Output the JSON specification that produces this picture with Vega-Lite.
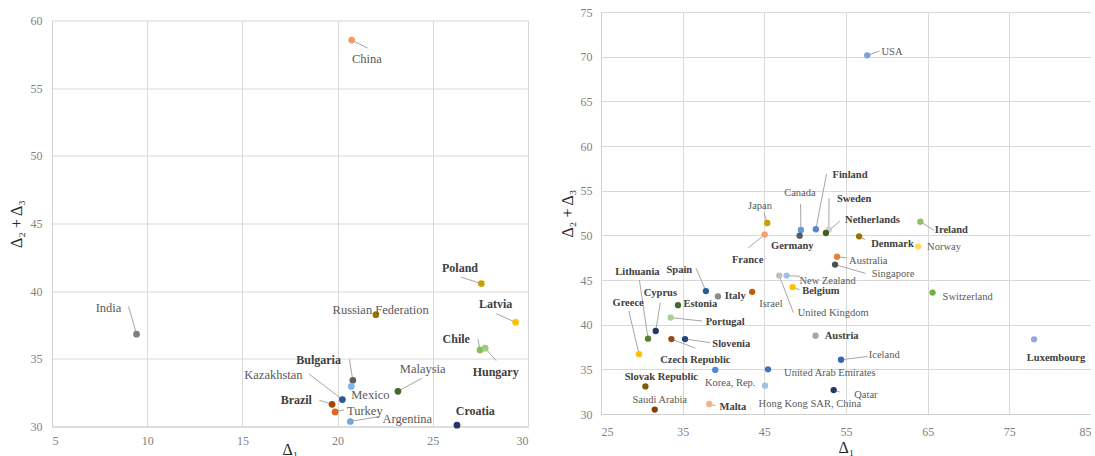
{
  "$schema": "https://vega.github.io/schema/vega-lite/v6.json",
  "padding": {"left": 8, "top": 6, "right": 0, "bottom": 0},
  "spacing": 31,
  "config": {
    "view": {"stroke": null},
    "axis": {"grid": true, "gridColor": "#d9d9d9", "domainColor": "#d0d0d0", "ticks": false, "labelFont": "Liberation Serif", "labelFontSize": 12, "labelColor": "#7f7f7f", "titleFont": "Liberation Serif", "titleFontSize": 16, "titleFontWeight": "normal", "titleColor": "#262626"},
    "text": {"font": "Liberation Serif"}
  },
  "resolve": {"scale": {"color": "independent", "x": "independent", "y": "independent"}},
  "hconcat": [
    {
      "spacing": 1.5,
      "vconcat": [
        {
          "width": 476, "height": 1,
          "data": {"values": []},
          "mark": "point"
        },
        {
          "width": 476, "height": 406,
          "data": {"values": [
            {"country": "China", "d1": 20.74, "d23": 58.55, "lx": 21.54, "ly": 57.18, "kx": 21.58, "ky": 57.96, "bold": false},
            {"country": "India", "d1": 9.44, "d23": 36.82, "lx": 7.97, "ly": 38.78, "kx": 9.02, "ky": 38.88, "bold": false},
            {"country": "Poland", "d1": 27.55, "d23": 40.56, "lx": 26.43, "ly": 41.73, "kx": 26.47, "ky": 41.04, "bold": true},
            {"country": "Russian Federation", "d1": 22.01, "d23": 38.26, "lx": 22.26, "ly": 38.64, "bold": false},
            {"country": "Latvia", "d1": 29.35, "d23": 37.7, "lx": 28.3, "ly": 39.08, "kx": 28.33, "ky": 38.34, "bold": true},
            {"country": "Chile", "d1": 27.48, "d23": 35.66, "lx": 26.23, "ly": 36.43, "kx": 27.37, "ky": 36.45, "bold": true},
            {"country": "Hungary", "d1": 27.75, "d23": 35.79, "lx": 28.3, "ly": 34.05, "kx": 28.33, "ky": 34.86, "bold": true},
            {"country": "Bulgaria", "d1": 20.8, "d23": 33.41, "lx": 19.0, "ly": 34.93, "kx": 20.62, "ky": 34.96, "bold": true},
            {"country": "Mexico", "d1": 20.72, "d23": 32.96, "lx": 21.72, "ly": 32.36, "bold": false},
            {"country": "Malaysia", "d1": 23.17, "d23": 32.6, "lx": 24.47, "ly": 34.27, "kx": 24.42, "ky": 33.56, "bold": false},
            {"country": "Kazakhstan", "d1": 20.25, "d23": 31.99, "lx": 16.63, "ly": 33.83, "kx": 18.5, "ky": 33.88, "bold": false},
            {"country": "Brazil", "d1": 19.71, "d23": 31.64, "lx": 17.83, "ly": 31.94, "kx": 19.04, "ky": 31.94, "bold": true},
            {"country": "Turkey", "d1": 19.87, "d23": 31.08, "lx": 21.43, "ly": 31.18, "kx": 20.34, "ky": 31.23, "bold": false},
            {"country": "Argentina", "d1": 20.67, "d23": 30.37, "lx": 23.66, "ly": 30.59, "kx": 22.21, "ky": 30.74, "bold": false},
            {"country": "Croatia", "d1": 26.27, "d23": 30.1, "lx": 27.23, "ly": 31.18, "bold": true}
          ]},
          "layer": [
            {
              "transform": [{"filter": "isValid(datum.kx)"}],
              "mark": {"type": "rule", "color": "#a6a6a6", "strokeWidth": 1},
              "encoding": {
                "x": {"field": "kx", "type": "quantitative", "title": "Δ₁"},
                "y": {"field": "ky", "type": "quantitative", "title": "Δ₂ + Δ₃"},
                "x2": {"field": "d1"},
                "y2": {"field": "d23"}
              }
            },
            {
              "mark": {"type": "point", "filled": true, "opacity": 1, "size": 45},
              "encoding": {
                "x": {"field": "d1", "type": "quantitative", "title": "Δ₁", "scale": {"domain": [5, 30], "nice": false, "zero": false}, "axis": {"values": [5, 10, 15, 20, 25, 30], "labelPadding": 9, "titlePadding": -5}},
                "y": {"field": "d23", "type": "quantitative", "title": "Δ₂ + Δ₃", "scale": {"domain": [30, 60], "nice": false, "zero": false}, "axis": {"values": [30, 35, 40, 45, 50, 55, 60], "labelPadding": 10, "titlePadding": 6}},
                "color": {"field": "country", "type": "nominal", "legend": null, "scale": {
                  "domain": ["China", "India", "Poland", "Russian Federation", "Latvia", "Chile", "Hungary", "Bulgaria", "Mexico", "Malaysia", "Kazakhstan", "Brazil", "Turkey", "Argentina", "Croatia"],
                  "range": ["#f29b62", "#7f7f7f", "#c9a000", "#997300", "#ffc000", "#86bf5e", "#9acd7a", "#5f5f5f", "#7eb6ea", "#43682b", "#2f5597", "#9e480e", "#e0661d", "#6fa8dc", "#1f3864"]
                }}
              }
            },
            {
              "transform": [{"filter": "!datum.bold"}],
              "mark": {"type": "text", "fontSize": 12.5, "color": "#595959"},
              "encoding": {
                "x": {"field": "lx", "type": "quantitative", "title": "Δ₁"},
                "y": {"field": "ly", "type": "quantitative", "title": "Δ₂ + Δ₃"},
                "text": {"field": "country"}
              }
            },
            {
              "transform": [{"filter": "datum.bold"}],
              "mark": {"type": "text", "fontSize": 12, "fontWeight": "bold", "color": "#404040"},
              "encoding": {
                "x": {"field": "lx", "type": "quantitative", "title": "Δ₁"},
                "y": {"field": "ly", "type": "quantitative", "title": "Δ₂ + Δ₃"},
                "text": {"field": "country"}
              }
            }
          ]
        }
      ]
    },
    {
      "width": 490, "height": 402,
      "data": {"values": [
        {"country": "USA", "d1": 57.6, "d23": 70.15, "lx": 60.63, "ly": 70.56, "kx": 59.11, "ky": 70.63, "bold": false},
        {"country": "Ireland", "d1": 64.1, "d23": 51.53, "lx": 67.9, "ly": 50.56, "kx": 65.78, "ky": 50.56, "bold": true},
        {"country": "Japan", "d1": 45.36, "d23": 51.38, "lx": 44.47, "ly": 53.31, "kx": 44.96, "ky": 52.52, "bold": false},
        {"country": "Canada", "d1": 49.48, "d23": 50.6, "lx": 49.36, "ly": 54.7, "kx": 49.44, "ky": 53.5, "bold": false},
        {"country": "Finland", "d1": 51.31, "d23": 50.68, "lx": 55.49, "ly": 56.8, "kx": 52.62, "ky": 56.88, "bold": true},
        {"country": "Sweden", "d1": 52.9, "d23": 50.64, "lx": 56.0, "ly": 54.1, "kx": 52.92, "ky": 54.17, "bold": true},
        {"country": "Netherlands", "d1": 52.54, "d23": 50.26, "lx": 58.25, "ly": 51.75, "kx": 54.26, "ky": 51.6, "bold": true},
        {"country": "France", "d1": 45.04, "d23": 50.08, "lx": 42.96, "ly": 47.26, "kx": 43.04, "ky": 48.6, "bold": true},
        {"country": "Germany", "d1": 49.32, "d23": 49.96, "lx": 48.42, "ly": 48.76, "bold": true},
        {"country": "Denmark", "d1": 56.6, "d23": 49.89, "lx": 60.7, "ly": 49.07, "kx": 57.32, "ky": 49.5, "bold": true},
        {"country": "Norway", "d1": 63.83, "d23": 48.77, "lx": 67.0, "ly": 48.7, "bold": false},
        {"country": "Australia", "d1": 53.9, "d23": 47.6, "lx": 57.73, "ly": 47.18, "kx": 55.08, "ky": 47.48, "bold": false},
        {"country": "Singapore", "d1": 53.66, "d23": 46.73, "lx": 60.76, "ly": 45.63, "kx": 57.38, "ky": 45.74, "bold": false},
        {"country": "United Kingdom", "d1": 46.83, "d23": 45.49, "lx": 53.43, "ly": 41.28, "kx": 48.56, "ky": 41.35, "bold": false},
        {"country": "New Zealand", "d1": 47.73, "d23": 45.49, "lx": 52.74, "ly": 44.9, "kx": 49.36, "ky": 45.41, "bold": false},
        {"country": "Belgium", "d1": 48.46, "d23": 44.21, "lx": 51.92, "ly": 43.72, "kx": 49.3, "ky": 43.9, "bold": true},
        {"country": "Israel", "d1": 43.51, "d23": 43.68, "lx": 45.81, "ly": 42.29, "bold": false},
        {"country": "Italy", "d1": 39.32, "d23": 43.16, "lx": 41.44, "ly": 43.16, "bold": true},
        {"country": "Spain", "d1": 37.85, "d23": 43.76, "lx": 34.59, "ly": 46.17, "kx": 36.63, "ky": 46.32, "bold": true},
        {"country": "Estonia", "d1": 34.43, "d23": 42.18, "lx": 37.16, "ly": 42.29, "bold": true},
        {"country": "Portugal", "d1": 33.53, "d23": 40.79, "lx": 40.21, "ly": 40.3, "kx": 37.36, "ky": 40.41, "bold": true},
        {"country": "Cyprus", "d1": 31.7, "d23": 39.29, "lx": 32.27, "ly": 43.5, "kx": 32.27, "ky": 42.48, "bold": true},
        {"country": "Lithuania", "d1": 30.76, "d23": 38.43, "lx": 29.46, "ly": 45.86, "kx": 29.7, "ky": 45.0, "bold": true},
        {"country": "Greece", "d1": 29.66, "d23": 36.7, "lx": 28.32, "ly": 42.44, "kx": 28.4, "ky": 41.54, "bold": true},
        {"country": "Czech Republic", "d1": 33.62, "d23": 38.39, "lx": 36.55, "ly": 35.99, "kx": 36.55, "ky": 37.38, "bold": true},
        {"country": "Slovenia", "d1": 35.29, "d23": 38.39, "lx": 40.95, "ly": 37.87, "kx": 38.38, "ky": 37.98, "bold": true},
        {"country": "Austria", "d1": 51.27, "d23": 38.76, "lx": 54.47, "ly": 38.7, "bold": true},
        {"country": "Iceland", "d1": 54.39, "d23": 36.07, "lx": 59.68, "ly": 36.55, "kx": 57.65, "ky": 36.44, "bold": false},
        {"country": "Korea, Rep.", "d1": 38.99, "d23": 34.93, "lx": 40.82, "ly": 33.5, "bold": false},
        {"country": "United Arab Emirates", "d1": 45.45, "d23": 35.0, "lx": 53.02, "ly": 34.59, "bold": false},
        {"country": "Hong Kong SAR, China", "d1": 45.08, "d23": 33.17, "lx": 50.58, "ly": 31.14, "bold": false},
        {"country": "Qatar", "d1": 53.49, "d23": 32.68, "lx": 57.44, "ly": 32.12, "kx": 54.27, "ky": 32.45, "bold": false},
        {"country": "Slovak Republic", "d1": 30.44, "d23": 33.09, "lx": 32.39, "ly": 34.14, "bold": true},
        {"country": "Saudi Arabia", "d1": 31.58, "d23": 30.49, "lx": 32.19, "ly": 31.61, "bold": false},
        {"country": "Malta", "d1": 38.26, "d23": 31.12, "lx": 41.15, "ly": 30.82, "kx": 39.0, "ky": 30.94, "bold": true},
        {"country": "Luxembourg", "d1": 78.03, "d23": 38.36, "lx": 80.71, "ly": 36.28, "bold": true},
        {"country": "Switzerland", "d1": 65.6, "d23": 43.59, "lx": 69.9, "ly": 43.14, "bold": false}
      ]},
      "layer": [
        {
          "transform": [{"filter": "isValid(datum.kx)"}],
          "mark": {"type": "rule", "color": "#a6a6a6", "strokeWidth": 1},
          "encoding": {
            "x": {"field": "kx", "type": "quantitative", "title": "Δ₁"},
            "y": {"field": "ky", "type": "quantitative", "title": "Δ₂ + Δ₃"},
            "x2": {"field": "d1"},
            "y2": {"field": "d23"}
          }
        },
        {
          "mark": {"type": "point", "filled": true, "opacity": 1, "size": 40},
          "encoding": {
            "x": {"field": "d1", "type": "quantitative", "title": "Δ₁", "scale": {"domain": [25, 85], "nice": false, "zero": false}, "axis": {"values": [25, 35, 45, 55, 65, 75, 85], "labelPadding": 12, "titlePadding": 2}},
            "y": {"field": "d23", "type": "quantitative", "title": "Δ₂ + Δ₃", "scale": {"domain": [30, 75], "nice": false, "zero": false}, "axis": {"values": [30, 35, 40, 45, 50, 55, 60, 65, 70, 75], "labelPadding": 9, "titlePadding": 5}},
            "color": {"field": "country", "type": "nominal", "legend": null, "scale": {
              "domain": ["USA", "Ireland", "Japan", "Canada", "Finland", "Sweden", "Netherlands", "France", "Germany", "Denmark", "Norway", "Australia", "Singapore", "United Kingdom", "New Zealand", "Belgium", "Israel", "Italy", "Spain", "Estonia", "Portugal", "Cyprus", "Lithuania", "Greece", "Czech Republic", "Slovenia", "Austria", "Iceland", "Korea, Rep.", "United Arab Emirates", "Hong Kong SAR, China", "Qatar", "Slovak Republic", "Saudi Arabia", "Malta", "Luxembourg", "Switzerland"],
              "range": ["#7f9fdb", "#8cc168", "#c9a000", "#5b9bd5", "#5a82d5", "#d0d0d0", "#3b6122", "#f4a16e", "#595959", "#997300", "#ffd966", "#ed7d31", "#4f4f4f", "#bfbfbf", "#9dc3e6", "#ffc000", "#c55a11", "#8c8c8c", "#255e91", "#43682b", "#a9d18e", "#203864", "#548235", "#ffc000", "#9e480e", "#264478", "#a5a5a5", "#3a62b8", "#4a8ad6", "#4472c4", "#9dc3e6", "#1f3864", "#7f6000", "#843c0c", "#f4b183", "#8ea9db", "#70ad47"]
            }}
          }
        },
        {
          "transform": [{"filter": "!datum.bold"}],
          "mark": {"type": "text", "fontSize": 10.5, "color": "#595959"},
          "encoding": {
            "x": {"field": "lx", "type": "quantitative", "title": "Δ₁"},
            "y": {"field": "ly", "type": "quantitative", "title": "Δ₂ + Δ₃"},
            "text": {"field": "country"}
          }
        },
        {
          "transform": [{"filter": "datum.bold"}],
          "mark": {"type": "text", "fontSize": 10.5, "fontWeight": "bold", "color": "#404040"},
          "encoding": {
            "x": {"field": "lx", "type": "quantitative", "title": "Δ₁"},
            "y": {"field": "ly", "type": "quantitative", "title": "Δ₂ + Δ₃"},
            "text": {"field": "country"}
          }
        }
      ]
    }
  ]
}
